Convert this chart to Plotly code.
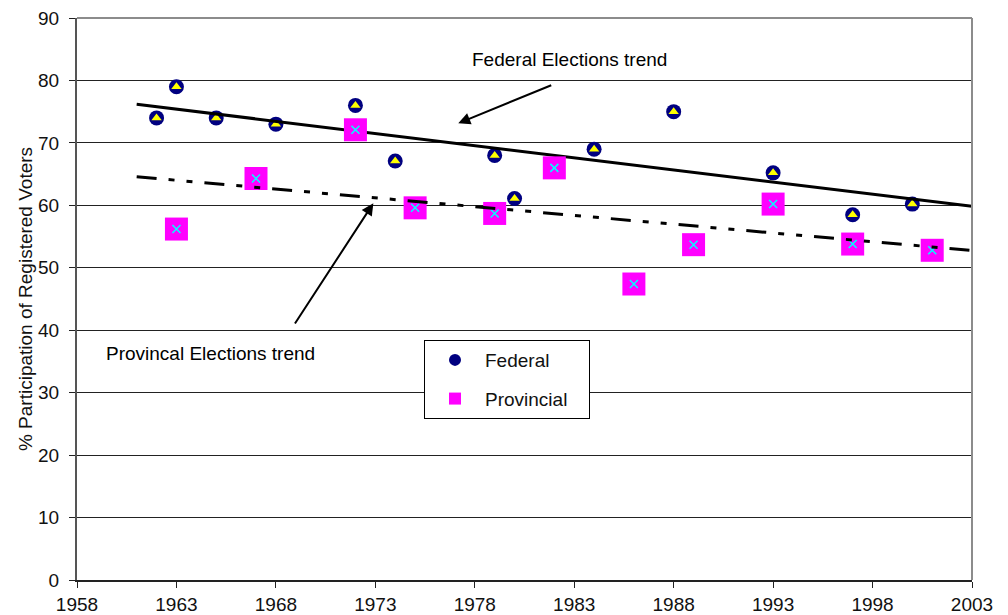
import numpy as np
import plotly.graph_objects as go

# ---- data ----
federal_years = [1962, 1963, 1965, 1968, 1972, 1974, 1979, 1980, 1984, 1988, 1993, 1997, 2000]
federal_turnout = [74.0, 79.0, 74.0, 73.0, 76.0, 67.1, 68.0, 61.1, 69.0, 75.0, 65.2, 58.5, 60.2]

provincial_years = [1963, 1967, 1972, 1975, 1979, 1982, 1986, 1989, 1993, 1997, 2001]
provincial_turnout = [56.2, 64.3, 72.1, 59.6, 58.7, 66.0, 47.4, 53.7, 60.2, 53.8, 52.8]

trend_span = [1961, 2003]          # extent of the drawn trendlines
x_ticks = list(range(1958, 2004, 5))
y_ticks = list(range(0, 91, 10))

FONT = "Liberation Sans, Arial, sans-serif"


def trend(xs, ys, span):
    k, b = np.polyfit(xs, ys, 1)
    return [span[0], span[1]], [k * span[0] + b, k * span[1] + b]


fig = go.Figure()

# Federal markers: navy circle with yellow triangle
fig.add_trace(go.Scatter(x=federal_years, y=federal_turnout, mode="markers", name="Federal",
                         legendgroup="fed",
                         marker=dict(symbol="circle", size=15, color="#000080")))
fig.add_trace(go.Scatter(x=federal_years, y=federal_turnout, mode="markers", showlegend=False,
                         hoverinfo="skip",
                         marker=dict(symbol="triangle-up", size=9, color="#FFFF00")))
fx, fy = trend(federal_years, federal_turnout, trend_span)
fig.add_trace(go.Scatter(x=fx, y=fy, mode="lines", showlegend=False,
                         line=dict(color="black", width=3)))

# Provincial markers: magenta square with cyan x
fig.add_trace(go.Scatter(x=provincial_years, y=provincial_turnout, mode="markers",
                         name="Provincial\u00a0\u00a0\u00a0",
                         legendgroup="prov",
                         marker=dict(symbol="square", size=23, color="#FF00FF")))
fig.add_trace(go.Scatter(x=provincial_years, y=provincial_turnout, mode="markers", showlegend=False,
                         hoverinfo="skip",
                         marker=dict(symbol="x-thin", size=8, color="#00FFFF",
                                     line=dict(color="#00FFFF", width=1.5))))
px_, py_ = trend(provincial_years, provincial_turnout, trend_span)
fig.add_trace(go.Scatter(x=px_, y=py_, mode="lines", showlegend=False,
                         line=dict(color="black", width=3, dash="20px,12px,6px,12px,6px,12px")))

# annotations
fig.add_annotation(x=1982.74, y=83.3, xref="x", yref="y", text="Federal Elections trend",
                   showarrow=False, font=dict(family=FONT, size=19, color="black"))
fig.add_annotation(x=1977.17, y=73.14, ax=1981.92, ay=79.33, xref="x", yref="y",
                   axref="x", ayref="y", text="", showarrow=True,
                   arrowhead=2, arrowsize=1.2, arrowwidth=2, arrowcolor="black", standoff=0)
fig.add_annotation(x=1964.71, y=36.2, xref="x", yref="y", text="Provincal Elections trend",
                   showarrow=False, font=dict(family=FONT, size=19, color="black"))
fig.add_annotation(x=1972.9, y=60.33, ax=1968.91, ay=40.84, xref="x", yref="y",
                   axref="x", ayref="y", text="", showarrow=True,
                   arrowhead=2, arrowsize=1.2, arrowwidth=2, arrowcolor="black", standoff=0)

# top and right plot-area border
fig.add_shape(type="line", xref="paper", yref="paper", x0=0, x1=1, y0=1, y1=1,
              line=dict(color="#8c8c8c", width=2), layer="above")
fig.add_shape(type="line", xref="paper", yref="paper", x0=1, x1=1, y0=0, y1=1,
              line=dict(color="#8c8c8c", width=2), layer="above")

# the page body adds an 8px offset; margins compensate for it
fig.update_layout(
    width=1008, height=615,
    margin=dict(l=69, r=44, t=10, b=43, autoexpand=False),
    paper_bgcolor="white", plot_bgcolor="white",
    font=dict(family=FONT, size=19, color="#111"),
    showlegend=True,
    legend=dict(x=0.3877, y=0.427, xanchor="left", yanchor="top",
                bgcolor="white", bordercolor="black", borderwidth=1,
                font=dict(family=FONT, size=19, color="#111"),
                traceorder="grouped", tracegroupgap=11, itemsizing="constant",
                itemwidth=50),
    xaxis=dict(range=[1958, 2003], tickmode="array", tickvals=x_ticks,
               ticktext=[str(t) for t in x_ticks], automargin=False,
               ticklabeloverflow="allow",
               showgrid=False, zeroline=False,
               showline=True, linecolor="#222", linewidth=1.5,
               ticks="outside", ticklen=6, tickcolor="#222", tickwidth=1,
               tickfont=dict(family=FONT, size=19, color="#111")),
    yaxis=dict(range=[0, 90], tickmode="array", tickvals=y_ticks, automargin=False,
               ticklabeloverflow="allow",
               showgrid=True, gridcolor="#222", gridwidth=1, zeroline=False,
               showline=True, linecolor="#555", linewidth=2,
               ticks="outside", ticklen=6, tickcolor="#222", tickwidth=1,
               ticklabelstandoff=6,
               tickfont=dict(family=FONT, size=19, color="#111"),
               title=dict(text="% Participation of Registered Voters", standoff=0,
                          font=dict(family=FONT, size=19, color="#111"))),
)

fig.write_html("out.html")
